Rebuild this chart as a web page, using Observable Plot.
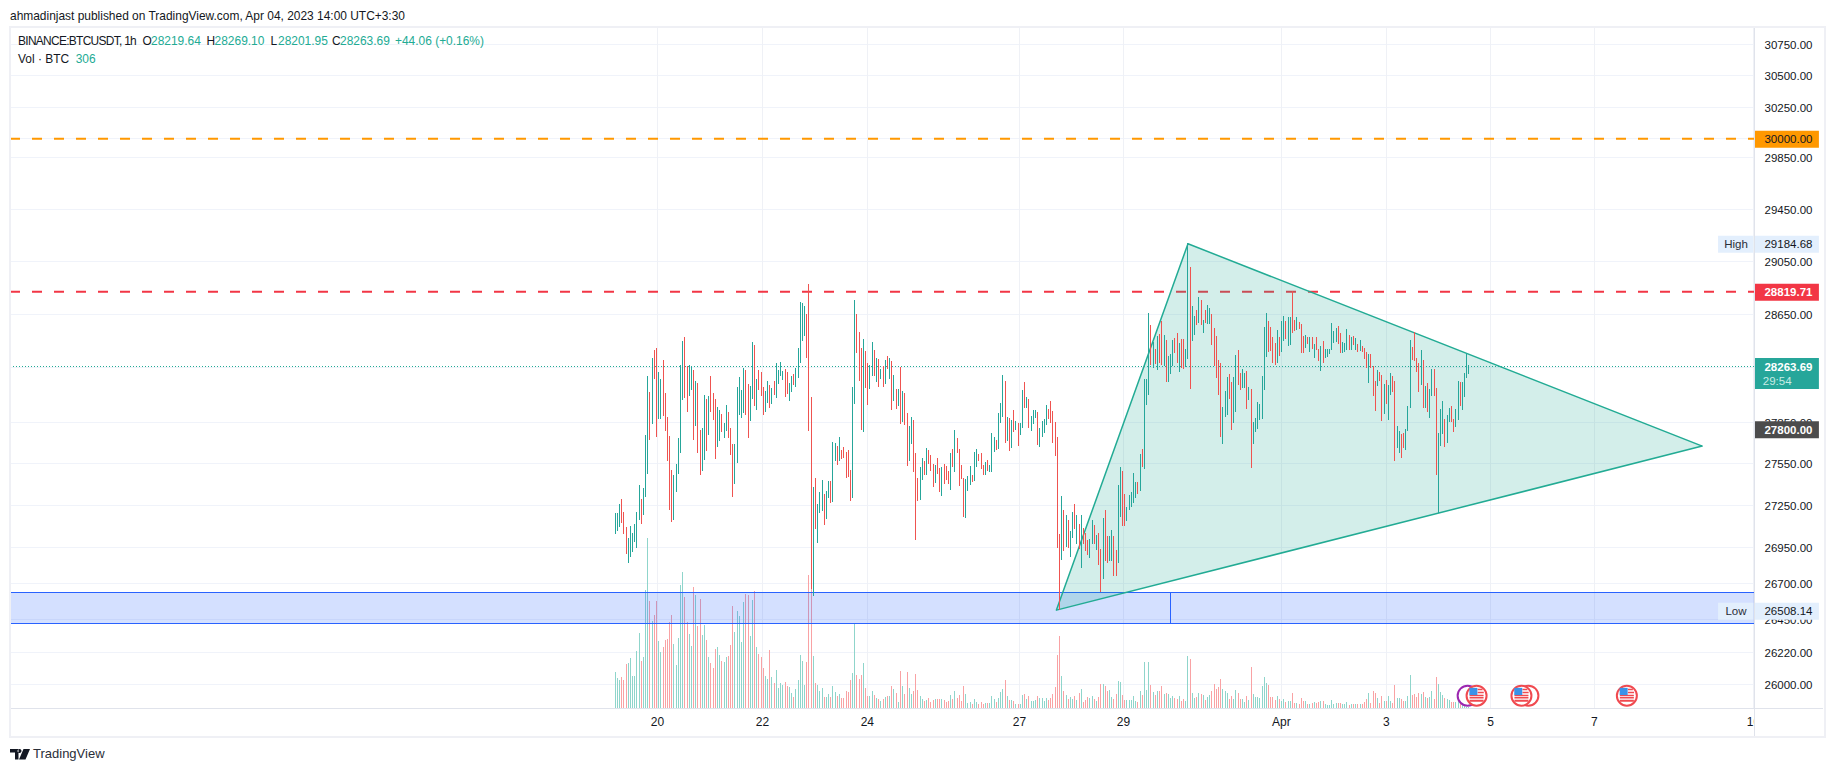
<!DOCTYPE html>
<html>
<head>
<meta charset="utf-8">
<script src="https://cdn.jsdelivr.net/npm/d3@7"></script>
<script src="https://cdn.jsdelivr.net/npm/@observablehq/plot@0.6"></script>
<style>
html,body{margin:0;padding:0;background:#fff;}
#page{position:relative;width:1834px;height:772px;overflow:hidden;font-family:"Liberation Sans",sans-serif;color:#131722;}
#page svg{position:absolute;left:0;top:0;}
.t{position:absolute;white-space:pre;font-size:11.95px;line-height:14px;}
.t span.a{position:absolute;top:0;}
.g{color:#22ab94;}
#frame{position:absolute;left:9px;top:26px;width:1813px;height:708px;border:2px solid #eff0f5;box-sizing:content-box;}
#vsep{position:absolute;left:1754px;top:28px;width:1px;height:708px;background:#e0e3eb;}
#hsep{position:absolute;left:11px;top:708px;width:1812px;height:1px;background:#e0e3eb;}
#mask{position:absolute;left:1755px;top:710px;width:66px;height:25px;background:#fff;}
</style>
</head>
<body>
<div id="page"></div>
<script>
const high=[27194,27194,27258,27294,27201,27095,27017,27102,27052,27116,
27201,27394,27294,27373,27754,28188,28070,28321,28380,28395,
28217,28165,28305,28063,27886,27747,27502,27466,27545,27732,
28269,28446,28476,28261,28269,28261,28232,28151,28136,27790,
27805,28048,28019,28041,28188,28063,28019,27960,27938,27908,
27842,27974,27923,27805,27689,27689,28107,28180,28085,28246,
28232,28129,28114,28439,28417,28165,28232,28217,28107,28077,
28151,28121,28099,28151,28284,28232,28291,28225,28239,28217,
28136,28188,28202,28246,28395,28739,28732,28709,28649,28876,
28033,27380,27444,27258,27344,27430,27330,27352,27423,27423,
27703,27696,27675,27739,27646,27667,27631,27646,27502,28107,
28755,28649,28513,28395,28461,28373,28284,28269,28439,28380,
28321,28313,28239,28261,28305,28335,28321,28298,28195,28092,
28092,28254,28077,28063,27916,27820,27886,27864,27624,27444,
27524,27588,27566,27660,27646,27610,27545,27538,27588,27516,
27524,27545,27531,27495,27624,27653,27790,27732,27653,27538,
27444,27437,27459,27531,27466,27631,27653,27617,27624,27538,
27559,27574,27538,27769,27739,27718,27916,27989,28195,28151,
27886,27879,27864,27938,27857,27842,27842,28085,28143,28033,
28019,27894,27938,27938,27923,27805,27857,27871,27974,27945,
28004,27930,27850,27739,27045,27315,27215,27180,27144,27066,
27201,27258,27180,27116,27180,27087,27052,27002,27010,27144,
27109,27038,27052,26939,27159,27215,27031,27031,27073,27031,
26932,27394,27524,27495,27330,27237,27323,27344,27480,27416,
27416,27617,27653,28165,28165,28656,28566,28439,28387,28484,
28499,28596,28491,28454,28335,28350,28454,28469,28506,28432,
28461,28461,28387,29184.68,29004,28709,28634,28679,28777,28755,
28604,28679,28717,28694,28649,28543,28484,28305,28284,27960,
28077,28180,28202,28143,28180,28343,28380,28210,28239,28210,
28225,28107,28092,27850,27879,27996,27982,28188,28551,28656,
28596,28551,28476,28432,28528,28476,28596,28634,28596,28626,
28626,28823,28604,28626,28589,28574,28484,28491,28476,28476,
28476,28424,28476,28387,28410,28446,28387,28387,28387,28581,
28521,28543,28558,28506,28439,28432,28536,28491,28476,28484,
28469,28424,28454,28410,28395,28365,28350,28350,28261,28151,
28232,28217,28195,28129,28158,28121,28210,28188,28151,27820,
27783,27761,27769,27798,27967,28454,28402,28513,28321,28284,
28380,28305,28114,28136,28092,28239,28239,28099,27769,27945,
28004,27871,27901,27952,27967,27871,27945,28151,28143,28143,
28210,28358,28269.10];
const low=[27040,27061,27092,27123,27040,26899,26836,26878,26918,26984,
26941,27140,27116,27175,27308,27473,27718,27835,28165,27739,
27871,27871,27894,27783,27566,27215,27130,27144,27344,27473,
27624,28011,28026,27923,28041,28085,27718,27820,27624,27466,
27495,27574,27638,27754,27923,27864,27581,27667,27711,27776,
27732,27783,27732,27610,27308,27401,27552,27901,27879,27916,
27901,27732,27857,28019,27967,27938,28085,28041,27901,27923,
27989,27952,27982,28048,28026,28129,28188,28158,28033,28055,
28004,28070,28121,28107,28173,28284,28446,28484,28321,27783,
26658,26610,27080,26982,27194,27208,27109,27151,27301,27265,
27272,27566,27538,27566,27581,27588,27444,27452,27280,27301,
27982,28358,28151,27790,27776,28099,27974,28092,28188,28188,
28143,28107,28165,28107,28129,28239,28165,27938,28004,27945,
27967,27835,27850,27828,27531,27566,27689,27488,27002,27280,
27287,27430,27466,27466,27545,27495,27380,27409,27473,27344,
27315,27401,27430,27401,27358,27524,27488,27624,27387,27437,
27166,27159,27352,27394,27416,27423,27524,27566,27509,27466,
27466,27495,27488,27488,27631,27646,27653,27842,27886,27696,
27711,27638,27660,27776,27790,27675,27754,27805,27952,27952,
27805,27783,27835,27879,27682,27667,27739,27769,27828,27871,
27842,27696,27602,26946,26508.14,26861,26925,26953,26946,26883,
27017,27080,26974,26939,26805,26974,26925,26897,26876,26974,
26974,26932,26826,26638,26728,26854,26840,26854,26854,26749,
26749,26840,27166,27102,27102,27137,27215,27237,27265,27301,
27330,27352,27524,27509,27974,28048,28269,28246,28276,28232,
28284,28269,28261,28143,28143,28202,28261,28358,28284,28217,
28246,28239,28254,28313,28092,28446,28491,28566,28581,28566,
28506,28581,28574,28574,28417,28261,28173,28048,27739,27689,
27886,27901,28019,27790,27842,27923,28121,28085,28099,28099,
27945,28011,27516,27689,27776,27798,27864,27871,28085,28328,
28365,28373,28284,28269,28284,28335,28365,28446,28461,28410,
28417,28506,28521,28528,28536,28358,28358,28395,28424,28365,
28387,28321,28380,28298,28225,28284,28321,28328,28350,28380,
28432,28439,28424,28358,28358,28365,28380,28380,28380,28417,
28380,28365,28373,28365,28313,28246,28136,28246,28041,27930,
28114,28151,27857,27908,27982,27864,28048,28070,27566,27660,
27624,27588,27660,27646,27783,27952,28305,28298,28217,28070,
28121,27952,27952,27923,27879,28041,28041,27466,27194,27675,
27761,27667,27696,27850,27850,27776,27813,27864,27967,27938,
28033,28173,28201.95];
const candleColor=("ggg rrr gggg"+"ggrgggrgrr"+"ggrrrrrggg"+"ggrrggrgrr"+"ggrgrrrggr"+"ggrrrggggg"+"rrggrgrrrg"+"grgrgggg rr"+"ggrgggggrr"+"rgrgggrggr"+
"ggrgrrrrrg"+"grrrgrrggr"+"grgrgrgrgr"+"grgrrggrrr"+"ggrgrrrgrr"+"grrrgrgrrr"+"rgggrggrrr"+"grgggrgggr"+"grgrgrggrg"+"rgggrggggr"+
"rrrrrgrgrg"+"grgrgrrrgg"+"rgrrgrrggr"+"rggrrggggg"+"rgrgggrgrg"+"rrgrgggrrg"+"rrgg rgg rgr"+"grggrrrrrg"+"ggrrggrrgg"+"rgrggggggg"+
"rrrrgrggrg"+"grrgrrrgrg"+"rgrrgrgggg"+"ggrrgggrgr"+"grgrrrgrrr"+"grrgrggrrg"+"grrgggrrrr"+"grgrggrrgg"+"grggrrggrg"+"ggg").replace(/ /g,"").split("");
const volume=[18.2,15.2,14.2,15.7,14.2,22.2,22.7,25.2,16.2,16.2,
28.7,37.7,23.7,25.7,59.2,85.2,53.7,43.7,46.7,53.7,
33.7,28.2,30.7,34.2,34.7,43,46.7,32.2,21.7,35.2,
61.7,68.2,55.7,43.2,37.2,31.2,60.7,56.7,41.2,54.7,
36.7,41.7,34.2,25.7,22.7,20.2,29.7,30.7,26.7,23.7,
23.2,25.7,26.2,31.7,51.2,38.2,48.7,46.2,33.2,53.2,
57.2,56.7,36.2,54.2,58.7,30.7,27.2,25.7,20.2,16.2,
14.7,29.2,15.7,12.7,19.2,10.2,12.7,11.7,13.2,11.2,
10.7,7.7,5.7,9.7,14.2,26.7,23.7,11.7,23.2,66.7,
62.2,26.2,12.7,11.7,8.7,10.2,5.7,5.7,7.2,5.7,
11.2,8.2,6.2,7.2,5.2,5.2,8.7,8.2,14.2,17.7,
42.2,16.7,14.7,16.7,22.7,10.2,6.2,6.2,8.7,6.7,
5.2,4.7,3.7,4.7,5.7,6.2,6.2,11.2,9.7,7.7,
3.2,18.7,11.2,7.2,18.2,10.2,7.2,8.7,17.2,9.2,
6.2,4.7,3.7,4.2,5.2,3.2,4.2,4.7,4.7,4.7,
4.7,4.2,3.2,3.7,6.7,4.7,8.7,5.2,6.7,3.7,
11.2,7.2,2.7,3.2,2.2,4.7,3.2,2.2,3.2,2.2,
2.7,2.7,2.7,6.2,4.7,3.2,5.2,8.2,9.7,14.2,
6.2,4.2,4.2,3.7,2.2,2.2,2.2,6.7,7.2,4.7,
6.2,3.7,3.7,4.2,6.2,5.2,5.2,3.7,5.2,4.2,
5.2,7.2,10.7,26.7,36.2,16.2,8.7,6.7,4.7,5.7,
4.7,6.2,4.2,7.7,9.7,3.2,4.2,5.7,5.2,6,
4.5,3.5,5.5,12,12,11,8.5,9,5.5,4.5,
7,13.5,13,6.5,4,4,4,4,6,3.5,
3,8.5,6.5,23,9,23,11.5,8,6.5,8.5,
8.5,11,7,7.5,7,5,6,5,4.5,6,
3.5,4.5,3.5,26,24.5,7.5,5,5.5,7.5,7,
6.5,4,5.5,6.5,8.5,12,9.5,10.5,14.5,9.5,
8.5,7.5,4.5,6,4.5,9,7.5,4.5,4.5,3,
6,4,20.5,7,5.5,5.5,5,11,15.5,12.5,
11.5,5.5,5.5,4,6,4.5,3.5,4.5,3,3.5,
3.5,7.5,2.5,2.5,2,5,3.5,3.5,2,2,
2.5,3,2.5,3,3.5,3.5,2,1.5,1.5,4,
2,2.5,2.5,2.5,2,2,3,1.5,2,2,
2,2,2,2,3,4.5,7.5,2.5,8.5,7.5,
5,2.5,6,3.5,3.5,6,3.5,2.5,11.5,5,
5,4.5,3.5,3.5,6,16.5,6.5,7,5.5,7.5,
7,8,5.5,5,5.5,8.5,4.5,15.5,12,8,
6.5,5,4.5,4,3,3,3,5,4,2,
1.3,0.7,0.306];

const priceTicks=[30750,30500,30250,30000,29850,29450,29050,28650,28250,27850,27550,27250,26950,26700,26450,26220,26000];
const dayTickBars=[20.4,68.6,116.8,186.6,234.4,306.9,355.1,402.9,450.6,523.6];
const dayTickLabels=["20","22","24","27","29","Apr","3","5","7","10"];

const triangleBars=[203.6,264,500.1];
const trianglePrices=[26512,29184.68,27677];

const blueZoneTop=26633, blueZoneBottom=26417, blueZoneDividerBar=256;
const orangeLevel=30000, redLevel=28819.71, greyLevel=27800, lastPrice=28263.69, highLevel=29184.68, lowLevel=26508.14;
const lastBadgeCentre=28213, countdownPrice=28158, eventPrice=25924;
const paneTopPrice=30887, paneBottomPrice=25838;
const eventBars=[396.5,417.1,465.5], eventRingBars=[420.3], earningsRingBars=[392.4];

const firstBar=-276.6, axisBar=524.1, labelEndBar=550.7, badgeEndBar=553.9, hiLoBadgeStartBar=507.6, hiLoLabelBar=515.6;

const bars=high.map((h,i)=>({bar:i+1,high:h,low:low[i],up:candleColor[i]==="g",volume:volume[i]}));
const upBars=bars.filter(d=>d.up), downBars=bars.filter(d=>!d.up);
const triangle=triangleBars.map((b,i)=>({bar:b,price:trianglePrices[i]}));

const GREEN="#22ab94", RED="#f23645", LINE_RED="#f23645";
const font='"Liberation Sans",sans-serif';
const common={width:1834,height:772,marginLeft:10,marginRight:80,marginTop:28,marginBottom:64,
  style:{background:"transparent",fontFamily:font,fontSize:"11.5px",color:"#131722"}};
const xOpt={type:"linear",domain:[firstBar,axisBar],range:[10,1754]};
const yOpt={type:"log",domain:[26000,30750],range:[684,44]};
const crisp={shapeRendering:"crispEdges"};

/* base: grid and axes */
const base=Plot.plot({...common,x:xOpt,y:yOpt,marks:[
  Plot.ruleY(priceTicks,{x1:firstBar,x2:axisBar,y:d=>d,stroke:"#f0f3fa",strokeWidth:1,...crisp}),
  Plot.ruleX(dayTickBars,{x:d=>d,y1:paneBottomPrice,y2:paneTopPrice,stroke:"#eff1f6",strokeWidth:1,...crisp}),
  Plot.axisY(priceTicks,{anchor:"right",tickSize:0,tickPadding:10,tickFormat:d3.format(".2f"),label:null,fill:"#131722",fontSize:11.5,dy:1}),
  Plot.axisX(dayTickBars,{anchor:"bottom",tickSize:0,tickPadding:9,label:null,fill:"#131722",fontSize:12,
    tickFormat:d=>dayTickLabels[dayTickBars.indexOf(d)]})
]});

/* volume pane */
const vol=Plot.plot({...common,x:{...xOpt,axis:null},y:{type:"linear",domain:[0,85],range:[708,538],axis:null},marks:[
  Plot.ruleX(upBars,{x:"bar",y1:0,y2:"volume",stroke:"#8fd5cb",strokeWidth:1,...crisp}),
  Plot.ruleX(downBars,{x:"bar",y1:0,y2:"volume",stroke:"#f9a2a4",strokeWidth:1,...crisp})
]});

/* custom flag symbols */
const stripes={draw(c,s){const R=Math.sqrt(s/Math.PI);
  [[-.1,.13],[.12,.17],[.4,.2]].forEach(([y,h])=>c.rect(-R*.7,R*y,R*1.4,R*h));
  c.rect(R*.1,-R*.7,R*.5,R*.16);c.rect(R*.1,-R*.4,R*.62,R*.16);}};
const canton={draw(c,s){const R=Math.sqrt(s/Math.PI);c.rect(-R*.72,-R*.78,R*.8,R*.72);}};

/* overlay */
const top_=Plot.plot({...common,x:{...xOpt,axis:null},y:{...yOpt,axis:null},marks:[
  Plot.rect([0],{x1:firstBar,x2:axisBar,y1:blueZoneBottom,y2:blueZoneTop,fill:"#2962ff",fillOpacity:.2}),
  Plot.ruleY([blueZoneTop,blueZoneBottom],{x1:firstBar,x2:axisBar,y:d=>d,stroke:"#2962ff",strokeWidth:1,...crisp}),
  Plot.ruleX([blueZoneDividerBar],{x:d=>d,y1:blueZoneBottom,y2:blueZoneTop,stroke:"#2962ff",strokeWidth:1,...crisp}),
  Plot.ruleY([orangeLevel],{x1:firstBar,x2:axisBar,y:d=>d,stroke:"#ff9800",strokeWidth:2,strokeDasharray:"10 12"}),
  Plot.ruleY([redLevel],{x1:firstBar,x2:axisBar,y:d=>d,stroke:LINE_RED,strokeWidth:2,strokeDasharray:"10 12"}),
  Plot.ruleY([lastPrice],{x1:firstBar,x2:axisBar,y:d=>d,stroke:GREEN,strokeWidth:1,strokeDasharray:"1 2",...crisp}),
  Plot.line(triangle,{x:"bar",y:"price",curve:"linear-closed",stroke:GREEN,strokeWidth:1.5,fill:GREEN,fillOpacity:.2}),
  Plot.ruleX(upBars,{x:"bar",y1:"low",y2:"high",stroke:"#26a69a",strokeWidth:1,...crisp}),
  Plot.ruleX(downBars,{x:"bar",y1:"low",y2:"high",stroke:"#ef5350",strokeWidth:1,...crisp}),
  /* economic event flags */
  Plot.dot(earningsRingBars,{x:d=>d,y:eventPrice,r:10,stroke:"#9c27b0",strokeWidth:2,fill:"#fff"}),
  Plot.dot(eventRingBars,{x:d=>d,y:eventPrice,r:10,stroke:"#f04a50",strokeWidth:2,fill:"#fff"}),
  Plot.dot(eventBars,{x:d=>d,y:eventPrice,r:10,stroke:"#f04a50",strokeWidth:2,fill:"#fff"}),
  Plot.dot(eventBars,{x:d=>d,y:eventPrice,r:10,symbol:stripes,fill:"#f04a50",stroke:"none"}),
  Plot.dot(eventBars,{x:d=>d,y:eventPrice,r:10,symbol:canton,fill:"#3a92e8",stroke:"none"}),
  /* price badges */
  Plot.ruleY([orangeLevel],{x1:axisBar,x2:badgeEndBar,y:d=>d,stroke:"#ff9800",strokeWidth:17,dy:.5}),
  Plot.ruleY([highLevel],{x1:axisBar,x2:badgeEndBar,y:d=>d,stroke:"#e3effd",strokeWidth:17,dy:.5}),
  Plot.ruleY([highLevel],{x1:hiLoBadgeStartBar,x2:axisBar-.3,y:d=>d,stroke:"#e3effd",strokeWidth:17,dy:.5}),
  Plot.ruleY([redLevel],{x1:axisBar,x2:badgeEndBar,y:d=>d,stroke:RED,strokeWidth:17,dy:.5}),
  Plot.ruleY([lastBadgeCentre],{x1:axisBar,x2:badgeEndBar,y:d=>d,stroke:"#26a69a",strokeWidth:31,dy:.5}),
  Plot.ruleY([greyLevel],{x1:axisBar,x2:badgeEndBar,y:d=>d,stroke:"#4c4c4c",strokeWidth:17,dy:.5}),
  Plot.ruleY([lowLevel],{x1:axisBar,x2:badgeEndBar,y:d=>d,stroke:"#e3effd",strokeWidth:17,dy:.5}),
  Plot.ruleY([lowLevel],{x1:hiLoBadgeStartBar,x2:axisBar-.3,y:d=>d,stroke:"#e3effd",strokeWidth:17,dy:.5}),
  Plot.text([orangeLevel],{x:labelEndBar,y:d=>d,text:d=>d.toFixed(2),textAnchor:"end",fill:"#131722",fontSize:11.5,dy:1}),
  Plot.text([highLevel],{x:labelEndBar,y:d=>d,text:d=>d.toFixed(2),textAnchor:"end",fill:"#131722",fontSize:11.5,dy:1}),
  Plot.text([redLevel],{x:labelEndBar,y:d=>d,text:d=>d.toFixed(2),textAnchor:"end",fill:"#fff",fontSize:11.5,fontWeight:"bold",dy:1}),
  Plot.text([lastPrice],{x:labelEndBar,y:d=>d,text:d=>d.toFixed(2),textAnchor:"end",fill:"#fff",fontSize:11.5,fontWeight:"bold",dy:1}),
  Plot.text(["29:54"],{x:labelEndBar-9.6,y:countdownPrice,text:d=>d,textAnchor:"end",fill:"#c8ebe5",fontSize:11.5,dy:1}),
  Plot.text([greyLevel],{x:labelEndBar,y:d=>d,text:d=>d.toFixed(2),textAnchor:"end",fill:"#fff",fontSize:11.5,fontWeight:"bold",dy:1}),
  Plot.text([lowLevel],{x:labelEndBar,y:d=>d,text:d=>d.toFixed(2),textAnchor:"end",fill:"#131722",fontSize:11.5,dy:1}),
  Plot.text([highLevel],{x:hiLoLabelBar,y:d=>d,text:()=>"High",fill:"#2a2e39",fontSize:11.5,dy:1}),
  Plot.text([lowLevel],{x:hiLoLabelBar,y:d=>d,text:()=>"Low",fill:"#2a2e39",fontSize:11.5,dy:1})
]});

const page=document.getElementById("page");
const div=(html,css,cls)=>{const e=document.createElement("div");if(cls)e.className=cls;if(css)e.style.cssText=css;e.innerHTML=html;return e;};
const frame=div("","");frame.id="frame";
const vsep=div("","");vsep.id="vsep";
const hsep=div("","");hsep.id="hsep";
const mask=div("","");mask.id="mask";
page.append(base,vol,mask,top_,frame,vsep,hsep);
page.append(div("ahmadinjast published on TradingView.com, Apr 04, 2023 14:00 UTC+3:30","left:10px;top:9px;","t"));
const seg=(x,s,c)=>`<span class="a${c?" g":""}" style="left:${x}px">${s}</span>`;
page.append(div(`<span class="a" style="left:0;letter-spacing:-.7px">BINANCE:BTCUSDT, 1h</span>`+
  seg(124.5,"O")+seg(133,"28219.64",1)+seg(188.5,"H")+seg(196.6,"28269.10",1)+seg(252.5,"L")+seg(260,"28201.95",1)+seg(314,"C")+seg(322,"28263.69",1)+seg(377,"+44.06 (+0.16%)",1),
  "left:18px;top:34px;","t"));
page.append(div('Vol · BTC  <span class="g">306</span>',"left:18px;top:52px;","t"));
page.append(div('<svg width="20" height="11" viewBox="0 0 20 11" style="position:absolute;left:0;top:2px"><path fill="#131722" d="M0 0h8.5v10.5H5V3.5H0zM9.5 0a2 2 0 1 0 .01 0zM13.5 0H20l-4.5 10.5H9z"/></svg><span style="margin-left:23px">TradingView</span>',"left:10px;top:747px;font-size:13px;color:#2a2e39;","t"));
</script>
</body>
</html>
